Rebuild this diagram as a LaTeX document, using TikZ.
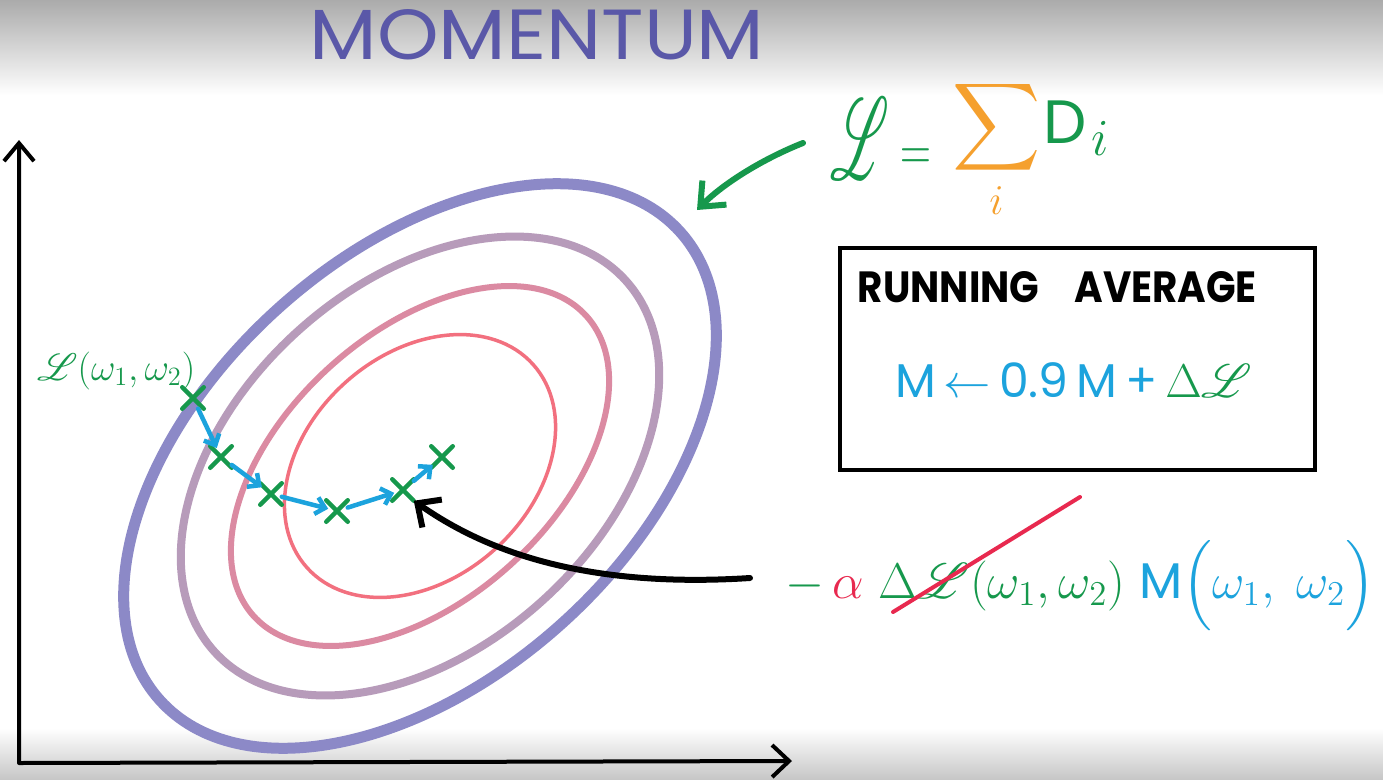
\documentclass[tikz,border=0pt]{standalone}
\usepackage{fontspec}
\usepackage{graphicx}
\usepackage{amsmath}
\usepackage{mathrsfs}
\setmainfont{Poppins}
\usetikzlibrary{arrows.meta,shapes.misc}
\definecolor{cblue}{HTML}{1CA3DD}
\definecolor{cgreen}{HTML}{16984C}
\definecolor{ctitle}{HTML}{5A58A8}
\definecolor{corange}{HTML}{F5A02E}
\definecolor{cred}{HTML}{E8294F}
\definecolor{eA}{HTML}{8C89C7}
\definecolor{eB}{HTML}{B79BBA}
\definecolor{eC}{HTML}{DB8AA2}
\definecolor{eD}{HTML}{F2707F}
\newcommand{\fitw}[2]{\resizebox{#1}{!}{#2}}
\newcommand{\fitwh}[3]{\resizebox{#1}{#2}{#3}}
\begin{document}
\begin{tikzpicture}[x=1pt,y=-1pt,
  xmk/.style={draw=cgreen, cross out, line width=4.5pt, minimum size=17pt, inner sep=0pt, line cap=round},
  stepline/.style={cblue, line width=4.5pt, line cap=round, line join=round, -{Straight Barb[length=9pt,width=17pt]}, shorten >=-2pt},
  axisline/.style={black, line width=4pt, line cap=round, line join=round, {Straight Barb[length=18pt,width=30pt]}-{Straight Barb[length=17pt,width=32pt]}},
  greenarrow/.style={cgreen, line width=6pt, line cap=round, -{Straight Barb[length=20pt,width=34pt]}},
  blackarrow/.style={black, line width=6pt, line cap=round, -{Straight Barb[length=18pt,width=34pt]}},
  txt/.style={inner sep=0pt},
]
% background
\useasboundingbox (0,0) rectangle (1383,779);
\fill[white] (0,0) rectangle (1383,779);
\shade[top color=black!33, bottom color=white] (0,0) rectangle (1383,95);
\shade[top color=white, bottom color=black!22] (0,728) rectangle (1383,779);

% contours
\begin{scope}[rotate around={42:(420,466)}]
\draw[eA, line width=11pt] (420,466) ellipse [x radius=350, y radius=212];
\draw[eB, line width=8pt] (420,466) ellipse [x radius=277, y radius=182];
\draw[eC, line width=6pt] (420,466) ellipse [x radius=224, y radius=134];
\draw[eD, line width=3.5pt] (420,466) ellipse [x radius=152, y radius=112];
\end{scope}

% axes
\coordinate (ytop) at (19,140);
\coordinate (orig) at (19,763);
\coordinate (xend) at (792,761);
\draw[axisline] (ytop) -- (orig) -- (xend);

% title
\node[txt, text=ctitle] (title) at (537,35) {\fitwh{455pt}{50pt}{\huge MOMENTUM}};

% loss formula
\node[txt, text=cgreen, anchor=base west] (Leq) at (830,143)
  {\scalebox{2.95}{\huge\raisebox{-0.6em}{\scalebox{0.9}[1.9]{$\mathscr{L}$}}\hspace{4pt}\raisebox{-0.45em}{\scalebox{0.7}[1]{$=$}}\hspace{7pt}$\displaystyle{\color{corange}\sum_{i}}$\hspace{1pt}D\hspace{1.5pt}\raisebox{-0.2em}{\scalebox{0.85}{$i$}}}};
\coordinate (g1) at (803,143);
\coordinate (g2) at (697,210);
\draw[greenarrow] (g1) .. controls (765,158) and (725,182) .. (g2);

% running average box
\node[draw, line width=4pt, minimum width=475pt, minimum height=222pt, inner sep=0pt] (box) at (1077.5,359) {};
\node[txt] (ra) at (1057.5,287.5) {\fitwh{399pt}{31pt}{\huge\bfseries RUNNING\hspace{0.9em}AVERAGE}};
\node[txt, anchor=base west] (upd) at (895,397)
  {\fitw{357pt}{\huge\color{cblue}M\,$\leftarrow$\,0.9\,M\,+\,{\color{cgreen}$\Delta\mathscr{L}$}}};

% path of steps
\node[txt, text=cgreen, anchor=base west] (lab) at (37,380) {\fitw{158pt}{\huge$\mathscr{L}(\omega_1,\omega_2)$}};
\node[xmk] (p1) at (193,398) {};
\node[xmk] (p2) at (221,457) {};
\node[xmk] (p3) at (271,494) {};
\node[xmk] (p4) at (337,511) {};
\node[xmk] (p5) at (403,490) {};
\node[xmk] (p6) at (442,457) {};
\draw[stepline] (p1) -- (p2);
\draw[stepline] (p2) -- (p3);
\draw[stepline] (p3) -- (p4);
\draw[stepline] (p4) -- (p5);
\draw[stepline] (p5) -- (p6);

% gradient formula
\node[txt, anchor=base west] (grad) at (785,598)
  {\fitw{590pt}{\huge{\color{cgreen}$-$}\,{\color{cred}$\alpha$}\;{\color{cgreen}$\Delta\mathscr{L}(\omega_1,\omega_2)$}\;{\color{cblue}M$\Bigl(\omega_1,\ \omega_2\Bigr)$}}};
\coordinate (s1) at (893,612);
\coordinate (s2) at (1080,497);
\draw[cred, line width=4pt, line cap=round] (s1) -- (s2);

\coordinate (b1) at (750,578);
\draw[blackarrow] (b1) .. controls (565,590) and (470,540) .. (p5.south east);
\end{tikzpicture}
\end{document}
